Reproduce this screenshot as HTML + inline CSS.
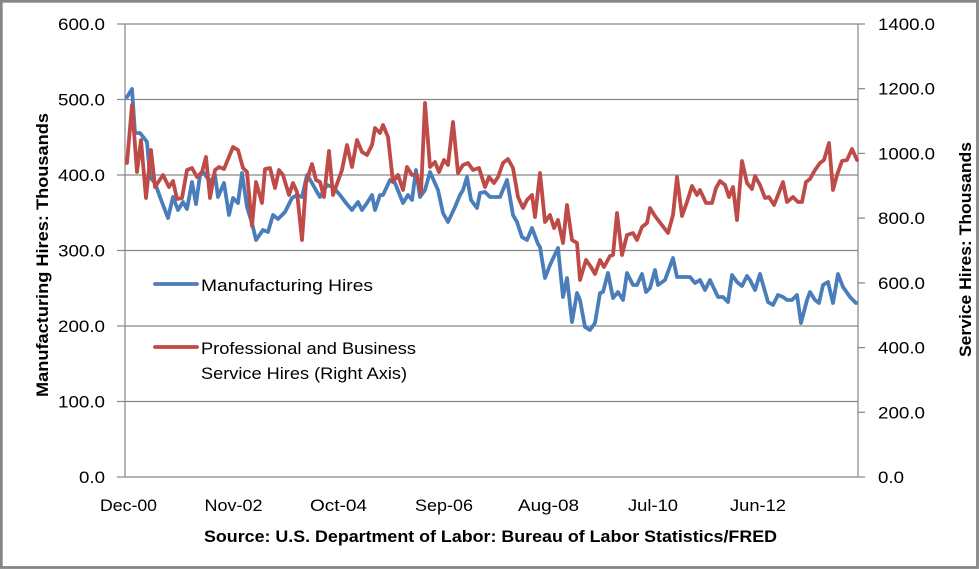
<!DOCTYPE html>
<html>
<head>
<meta charset="utf-8">
<style>
html,body{margin:0;padding:0;background:#fff;}
svg{display:block;}
text{font-family:"Liberation Sans",Arial,sans-serif;fill:#000;}
</style>
</head>
<body>
<svg width="979" height="569" viewBox="0 0 979 569" xmlns="http://www.w3.org/2000/svg">
<rect x="0" y="0" width="979" height="569" fill="#fff"/>
<rect x="1.3" y="1.3" width="976.2" height="566.2" fill="none" stroke="#868686" stroke-width="2.8"/>

<!-- gridlines -->
<g stroke="#868686" stroke-width="1.2" fill="none">
<line x1="125" y1="24" x2="858" y2="24"/>
<line x1="125" y1="99.5" x2="858" y2="99.5"/>
<line x1="125" y1="175" x2="858" y2="175"/>
<line x1="125" y1="250.5" x2="858" y2="250.5"/>
<line x1="125" y1="326" x2="858" y2="326"/>
<line x1="125" y1="401.5" x2="858" y2="401.5"/>
<line x1="125" y1="477" x2="858" y2="477"/>
<!-- axes -->
<line x1="125" y1="24" x2="125" y2="477"/>
<line x1="858" y1="24" x2="858" y2="477"/>
<!-- left ticks -->
<line x1="117" y1="24" x2="125" y2="24"/>
<line x1="117" y1="99.5" x2="125" y2="99.5"/>
<line x1="117" y1="175" x2="125" y2="175"/>
<line x1="117" y1="250.5" x2="125" y2="250.5"/>
<line x1="117" y1="326" x2="125" y2="326"/>
<line x1="117" y1="401.5" x2="125" y2="401.5"/>
<line x1="117" y1="477" x2="125" y2="477"/>
<!-- right ticks -->
<line x1="858" y1="24" x2="865" y2="24"/>
<line x1="858" y1="88.7" x2="865" y2="88.7"/>
<line x1="858" y1="153.4" x2="865" y2="153.4"/>
<line x1="858" y1="218.1" x2="865" y2="218.1"/>
<line x1="858" y1="282.9" x2="865" y2="282.9"/>
<line x1="858" y1="347.6" x2="865" y2="347.6"/>
<line x1="858" y1="412.3" x2="865" y2="412.3"/>
<line x1="858" y1="477" x2="865" y2="477"/>
</g>

<!-- left labels -->
<g font-size="17" text-anchor="end">
<text x="105" y="30" textLength="47" lengthAdjust="spacingAndGlyphs">600.0</text>
<text x="105" y="105.5" textLength="47" lengthAdjust="spacingAndGlyphs">500.0</text>
<text x="105" y="181" textLength="47" lengthAdjust="spacingAndGlyphs">400.0</text>
<text x="105" y="256.5" textLength="47" lengthAdjust="spacingAndGlyphs">300.0</text>
<text x="105" y="332" textLength="47" lengthAdjust="spacingAndGlyphs">200.0</text>
<text x="105" y="407.5" textLength="47" lengthAdjust="spacingAndGlyphs">100.0</text>
<text x="105" y="483" textLength="26" lengthAdjust="spacingAndGlyphs">0.0</text>
</g>
<!-- right labels -->
<g font-size="17">
<text x="878" y="30" textLength="57" lengthAdjust="spacingAndGlyphs">1400.0</text>
<text x="878" y="94.7" textLength="57" lengthAdjust="spacingAndGlyphs">1200.0</text>
<text x="878" y="159.4" textLength="57" lengthAdjust="spacingAndGlyphs">1000.0</text>
<text x="878" y="224.1" textLength="47" lengthAdjust="spacingAndGlyphs">800.0</text>
<text x="878" y="288.9" textLength="47" lengthAdjust="spacingAndGlyphs">600.0</text>
<text x="878" y="353.6" textLength="47" lengthAdjust="spacingAndGlyphs">400.0</text>
<text x="878" y="418.3" textLength="47" lengthAdjust="spacingAndGlyphs">200.0</text>
<text x="878" y="483" textLength="26" lengthAdjust="spacingAndGlyphs">0.0</text>
</g>
<!-- x labels -->
<g font-size="17" text-anchor="middle">
<text x="128.5" y="511" textLength="57" lengthAdjust="spacingAndGlyphs">Dec-00</text>
<text x="233.5" y="511" textLength="58" lengthAdjust="spacingAndGlyphs">Nov-02</text>
<text x="338.5" y="511" textLength="57" lengthAdjust="spacingAndGlyphs">Oct-04</text>
<text x="444" y="511" textLength="58" lengthAdjust="spacingAndGlyphs">Sep-06</text>
<text x="548.5" y="511" textLength="61" lengthAdjust="spacingAndGlyphs">Aug-08</text>
<text x="653" y="511" textLength="50" lengthAdjust="spacingAndGlyphs">Jul-10</text>
<text x="758" y="511" textLength="56" lengthAdjust="spacingAndGlyphs">Jun-12</text>
</g>

<!-- source -->
<text x="204" y="542" font-size="17" font-weight="bold" textLength="573" lengthAdjust="spacingAndGlyphs">Source: U.S. Department of Labor: Bureau of Labor Statistics/FRED</text>

<!-- axis titles -->
<text transform="translate(48,255) rotate(-90)" text-anchor="middle" font-size="17" font-weight="bold" textLength="284" lengthAdjust="spacingAndGlyphs">Manufacturing Hires: Thousands</text>
<text transform="translate(971,249.5) rotate(-90)" text-anchor="middle" font-size="17" font-weight="bold" textLength="215" lengthAdjust="spacingAndGlyphs">Service Hires: Thousands</text>

<!-- series -->
<polyline fill="none" stroke="#4A7EBB" stroke-width="3.8" stroke-linejoin="round" stroke-linecap="round" points="
127,97 132,89 135,133 140,133 144,138 147,142 150,177 155,183 160,197 168,218 173,197 178,210 183,202 187,209 192,182 196,204 200,175 204,173 210,182 215,175 218,197 224,183 229,215 233,198 238,203 242,173 247,207 252,223 256,240 263,230 268,232 273,215 278,219 285,212 292,198 297,195 302,197 307,175 312,183 317,192 320,197 327,185 333,187 340,195 346,203 352,210 358,202 362,210 367,203 372,195 375,210 380,195 383,195 390,180 395,183 403,203 408,195 412,200 416,170 420,197 425,190 430,172 438,190 443,213 448,222 455,207 460,195 463,190 467,177 471,200 477,208 480,193 485,192 490,197 500,197 507,180 513,215 517,222 522,237 527,240 532,228 538,244 540,247 545,278 550,265 558,248 563,297 567,278 572,322 577,293 580,300 585,327 590,330 595,323 600,293 603,292 608,273 613,298 618,292 623,300 627,273 633,285 637,285 642,274 646,292 650,288 655,270 658,285 665,280 673,258 677,277 690,277 695,283 700,280 705,290 710,280 718,297 723,297 728,302 732,275 737,282 742,286 747,276 750,280 755,290 760,274 768,302 773,305 778,295 783,297 787,300 792,300 797,295 801,323 807,300 810,292 815,300 819,303 823,285 828,282 833,303 838,274 843,287 850,297 856,303"/>

<polyline fill="none" stroke="#BE4B48" stroke-width="3.8" stroke-linejoin="round" stroke-linecap="round" points="
127,163 132,105 137,172 141,140 146,198 151,150 155,187 163,175 169,187 173,181 177,199 182,198 187,170 192,168 197,177 202,172 206,157 210,198 215,170 219,167 224,169 233,147 238,150 243,168 247,172 252,226 256,182 262,203 265,169 270,168 275,188 279,170 283,175 289,195 293,183 297,192 302,240 306,183 312,164 316,180 320,182 324,197 329,151 333,195 342,170 347,145 352,167 357,140 362,152 367,155 372,145 375,128 380,133 383,125 388,137 393,182 398,175 403,190 407,167 412,175 417,175 421,193 425,103 430,167 435,162 439,172 444,160 448,165 453,122 458,173 463,165 468,163 473,170 479,168 485,187 489,177 494,183 498,177 503,163 508,159 513,168 518,197 523,208 527,200 532,195 535,217 540,173 545,222 550,215 554,228 558,220 563,243 567,205 572,240 577,243 580,280 586,260 591,267 595,274 600,260 604,267 610,256 613,255 617,213 622,255 627,235 633,233 637,240 642,227 647,223 650,208 655,216 668,233 673,215 677,177 682,216 687,202 692,186 697,195 700,190 706,203 712,203 716,188 720,181 725,185 729,197 733,187 737,220 742,161 747,183 752,189 755,176 760,185 765,198 769,197 774,205 778,195 783,182 787,202 793,197 798,202 802,202 806,182 810,179 815,170 820,163 824,160 829,143 833,190 837,175 842,161 847,160 852,149 857,160"/>

<!-- legend -->
<line x1="155" y1="284" x2="197" y2="284" stroke="#4A7EBB" stroke-width="3.8" stroke-linecap="round"/>
<text x="201" y="291" font-size="17" textLength="172" lengthAdjust="spacingAndGlyphs">Manufacturing Hires</text>
<line x1="155" y1="347" x2="197" y2="347" stroke="#BE4B48" stroke-width="3.8" stroke-linecap="round"/>
<text x="201" y="354" font-size="17" textLength="215" lengthAdjust="spacingAndGlyphs">Professional and Business</text>
<text x="201" y="379" font-size="17" textLength="206" lengthAdjust="spacingAndGlyphs">Service Hires (Right Axis)</text>
</svg>
</body>
</html>
